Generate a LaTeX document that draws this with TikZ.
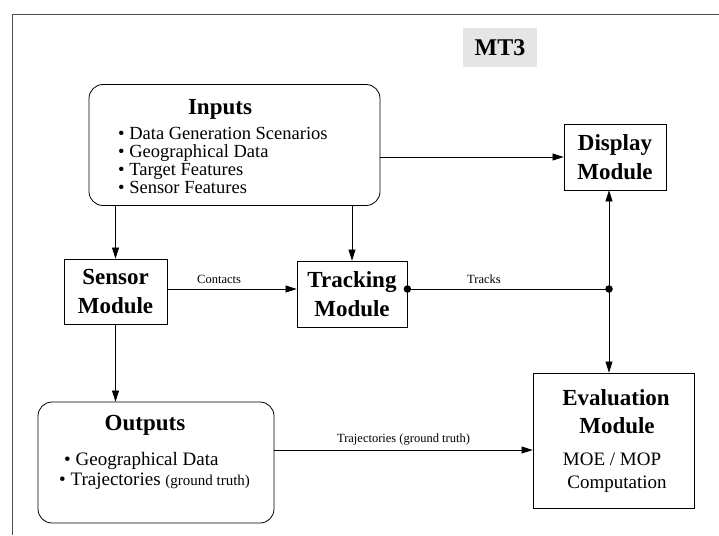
\documentclass[tikz,border=0pt]{standalone}
\usepackage{fontspec}
\setmainfont{Liberation Serif}
\usetikzlibrary{arrows.meta}
\tikzset{
  box/.style={draw, line width=0.8pt, inner sep=0pt, align=center},
  rbox/.style={box, rounded corners=14pt},
  arr/.style={-{Triangle[length=11pt,width=7pt]}, line width=0.7pt},
  darr/.style={{Triangle[length=11pt,width=7pt]}-{Triangle[length=11pt,width=7pt]}, line width=0.7pt},
  conn/.style={line width=0.7pt},
  jdot/.style={circle, fill=black, inner sep=0pt, minimum size=7.5pt},
  modfont/.style={font=\fontsize{23}{28.5}\selectfont\bfseries},
  bulfont/.style={font=\fontsize{18.5}{18.5}\selectfont},
  lblfont/.style={font=\fontsize{12.5}{13}\selectfont},
  txt/.style={inner sep=0pt, anchor=base}
}
\begin{document}
\begin{tikzpicture}[x=1pt,y=-1pt]
\useasboundingbox (0,0) rectangle (719,535);
% frame
\draw[line width=0.6pt, black!70] (12,535) -- (12,14) -- (719,14);
% MT3
\node[fill=black!10, minimum width=74pt, minimum height=39pt, inner sep=0pt,
      font=\fontsize{24}{26}\selectfont\bfseries] (mt3) at (500,47.5) {MT3};
% Inputs
\node[rbox, minimum width=291pt, minimum height=121pt] (inputs) at (234.5,145) {};
\node[txt, modfont] (intitle) at (220,114) {Inputs};
\node[txt, bulfont, anchor=base west] (in1) at (118,139) {• Data Generation Scenarios};
\node[txt, bulfont, anchor=base west] (in2) at (118,157.3) {• Geographical Data};
\node[txt, bulfont, anchor=base west] (in3) at (118,175.6) {• Target Features};
\node[txt, bulfont, anchor=base west] (in4) at (118,193.9) {• Sensor Features};
% Display
\node[box, modfont, minimum width=102pt, minimum height=66pt] (display) at (615,157) {Display\\Module};
% Sensor
\node[box, modfont, minimum width=103pt, minimum height=65pt] (sensor) at (115.5,291.5) {Sensor\\Module};
% Tracking
\node[box, modfont, minimum width=110pt, minimum height=66pt] (tracking) at (352,294) {Tracking\\Module};
% Evaluation
\node[box, minimum width=161pt, minimum height=135pt] (eval) at (613.5,440.5) {};
\node[txt, modfont] (evt1) at (616,405) {Evaluation};
\node[txt, modfont] (evt2) at (617,433) {Module};
\node[txt, font=\fontsize{19}{19}\selectfont] (evt3) at (612,465) {MOE / MOP};
\node[txt, font=\fontsize{19}{19}\selectfont] (evt4) at (617,488) {Computation};
% Outputs
\node[rbox, minimum width=236pt, minimum height=121pt] (outputs) at (156,462.5) {};
\node[txt, modfont] (outtitle) at (145,430) {Outputs};
\node[txt, font=\fontsize{19}{19}\selectfont, anchor=base west] (out1) at (64,465) {• Geographical Data};
\node[txt, font=\fontsize{19}{19}\selectfont, anchor=base west] (out2) at (59,485) {• Trajectories {\fontsize{15}{15}\selectfont(ground truth)}};
% junction
\coordinate (j) at (609,289);
\coordinate (t) at (400,450);
% connectors
\draw[arr] (inputs.east |- display.west) -- (display.west);
\draw[arr] (inputs.south -| sensor.north) -- (sensor.north);
\draw[arr] (inputs.south -| tracking.north) -- (tracking.north);
\draw[arr] (sensor.east |- j) -- node[pos=0.4, above=5pt, lblfont, inner sep=0pt] (lcont) {Contacts} (tracking.west |- j);
\draw[conn] (tracking.east |- j) -- node[pos=0.38, above=5pt, lblfont, inner sep=0pt] (ltrk) {Tracks} (j);
\node[jdot] (d1) at (tracking.east |- j) {};
\node[jdot] (d2) at (j) {};
\draw[darr] (display.south -| j) -- (eval.north -| j);
\draw[arr] (sensor.south) -- (sensor.south |- outputs.north);
\draw[arr] (outputs.east |- t) -- node[midway, above=4pt, lblfont, inner sep=0pt] (ltraj) {Trajectories (ground truth)} (eval.west |- t);
\end{tikzpicture}
\end{document}
